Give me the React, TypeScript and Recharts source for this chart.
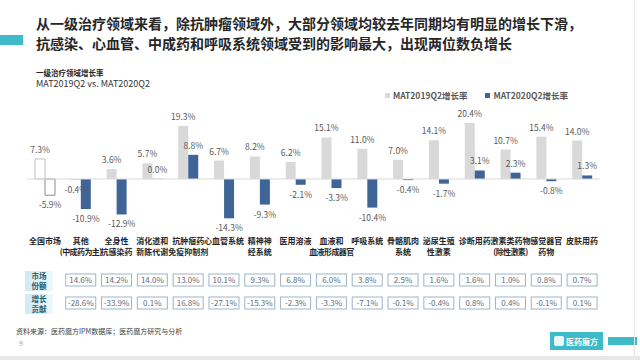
import { BarChart, Bar, XAxis, YAxis, Cell, LabelList, ReferenceLine } from "recharts";

// 一级治疗领域（含全国市场）
const categories = [
  "全国市场",
  "其他\n(中成药为主)",
  "全身性\n抗感染药",
  "消化道和\n新陈代谢",
  "抗肿瘤药\n免疫抑制剂",
  "心血管系统",
  "精神神\n经系统",
  "医用溶液",
  "血液和\n血液形成器官",
  "呼吸系统",
  "骨骼肌肉\n系统",
  "泌尿生殖\n性激素",
  "诊断用药",
  "激素类药物\n(除性激素)",
  "感觉器官\n药物",
  "皮肤用药",
];

const growth2019 = [7.3, -0.4, 3.6, 5.7, 19.3, 6.7, 8.2, 6.2, 15.1, 11.0, 7.0, 14.1, 20.4, 10.7, 15.4, 14.0];
const growth2020 = [-5.9, -10.9, -12.9, 0.0, 8.8, -14.3, -9.3, -2.1, -3.3, -10.4, -0.4, -1.7, 3.1, 2.3, -0.8, 1.3];

// 表格：市场份额 / 增长贡献（全国市场无）
const marketShare = [null, 14.6, 14.2, 14.0, 13.0, 10.1, 9.3, 6.8, 6.0, 3.8, 2.5, 1.6, 1.6, 1.0, 0.8, 0.7];
const contribution = [null, -28.6, -33.9, 0.1, 16.8, -27.1, -15.3, -2.3, -3.3, -7.1, -0.1, -0.4, 0.8, 0.4, -0.1, 0.1];

const seriesNames = ["MAT2019Q2增长率", "MAT2020Q2增长率"];

const COLOR_2019 = "#d9d9d9";
const COLOR_2020 = "#3f6596";
const TEAL = "#3fbac8";
const FONT = '"Noto Sans CJK SC", "Noto Sans", sans-serif';

const chartData = categories.map((name, i) => ({
  name,
  y2019: growth2019[i],
  y2020: growth2020[i],
}));

// label outside the end of the bar, below for negative values
const BarLabel = (props: any) => {
  const { x, y, width, height, value } = props;
  if (value === undefined || value === null) return null;
  const top = Math.min(y, y + height);
  const bottom = Math.max(y, y + height);
  const ty = value >= 0 ? top - 6 : bottom + 13;
  return (
    <text x={x + width / 2} y={ty} textAnchor="middle" fontSize={8.5} fill="#595959" fontFamily={FONT}>
      {Number(value).toFixed(1)}%
    </text>
  );
};

const fmt = (v: number) => `${v.toFixed(1)}%`;

// category name plus the two table cells under it
const CategoryTick = (props: any) => {
  const { x, y, payload } = props;
  const i = categories.indexOf(payload.value);
  const lines = String(payload.value).split("\n");
  const share = marketShare[i];
  const contrib = contribution[i];
  const boxW = 30;
  const boxH = 12;
  return (
    <g fontFamily={FONT}>
      {lines.map((line, k) => (
        <text
          key={k}
          x={x}
          y={y + 21 + k * 11}
          textAnchor="middle"
          fontSize={8}
          letterSpacing={line.length >= 6 ? -0.6 : 0}
          fontWeight="bold"
          fill="#262626"
        >
          {line}
        </text>
      ))}
      {share !== null && share !== undefined && (
        <g>
          <rect x={x - boxW / 2} y={y + 51} width={boxW} height={boxH} fill="#fff" stroke="#9fb3c6" strokeWidth={1} />
          <text x={x} y={y + 60} textAnchor="middle" fontSize={8} fill="#5b6e80">
            {fmt(share)}
          </text>
        </g>
      )}
      {contrib !== null && contrib !== undefined && (
        <g>
          <rect x={x - boxW / 2} y={y + 74} width={boxW} height={boxH} fill="#fff" stroke="#9fb3c6" strokeWidth={1} />
          <text x={x} y={y + 83} textAnchor="middle" fontSize={8} fill="#5b6e80">
            {fmt(contrib)}
          </text>
        </g>
      )}
    </g>
  );
};

const RowLabel = ({ top, lines }: { top: number; lines: string[] }) => (
  <div
    style={{
      position: "absolute",
      left: 25,
      top,
      width: 28,
      height: 20,
      background: "linear-gradient(to right, #cfeaf1, #eef8fa)",
      color: "#1d5d78",
      fontSize: 7.5,
      fontWeight: "bold",
      lineHeight: "10px",
      textAlign: "center",
    }}
  >
    {lines.map((l) => (
      <div key={l}>{l}</div>
    ))}
  </div>
);

export default function App() {
  return (
    <div
      style={{
        position: "absolute",
        left: 0,
        top: 0,
        width: 640,
        height: 360,
        background: "#fff",
        fontFamily: FONT,
        overflow: "hidden",
      }}
    >
      {/* title */}
      <div
        style={{
          position: "absolute",
          left: 36,
          top: 13,
          fontSize: 14,
          fontWeight: "bold",
          color: "#262626",
          lineHeight: "20px",
          whiteSpace: "nowrap",
        }}
      >
        <div>从一级治疗领域来看，除抗肿瘤领域外，大部分领域均较去年同期均有明显的增长下滑，</div>
        <div>抗感染、心血管、中成药和呼吸系统领域受到的影响最大，出现两位数负增长</div>
      </div>
      <div style={{ position: "absolute", left: 0, top: 35, width: 23, height: 10, background: TEAL }} />

      {/* subtitle */}
      <div style={{ position: "absolute", left: 36, top: 67, fontSize: 7.5, fontWeight: "bold", color: "#262626" }}>
        一级治疗领域增长率
      </div>
      <div style={{ position: "absolute", left: 36, top: 77, fontSize: 9, color: "#333" }}>
        MAT2019Q2 vs. MAT2020Q2
      </div>

      {/* legend */}
      <div
        style={{
          position: "absolute",
          left: 385,
          top: 89,
          display: "flex",
          gap: 18,
          fontSize: 8.5,
          fontWeight: "bold",
          color: "#595959",
        }}
      >
        {seriesNames.map((n, k) => (
          <div key={n} style={{ display: "flex", alignItems: "center", gap: 3 }}>
            <span style={{ width: 5, height: 5, background: k === 0 ? COLOR_2019 : COLOR_2020, display: "inline-block" }} />
            {n}
          </div>
        ))}
      </div>

      <div style={{ position: "absolute", left: 0, top: 0 }}>
        <BarChart
          width={640}
          height={360}
          data={chartData}
          margin={{ top: 113, right: 40, bottom: 37, left: 27 }}
          barGap={0}
        >
          <XAxis
            dataKey="name"
            axisLine={false}
            tickLine={false}
            tickSize={0}
            tickMargin={0}
            interval={0}
            height={100}
            tick={<CategoryTick />}
          />
          <YAxis hide domain={[-16, 24]} />
          <ReferenceLine y={0} stroke="#d9d9d9" strokeWidth={1} />
          <Bar dataKey="y2019" name={seriesNames[0]} fill={COLOR_2019} barSize={10} isAnimationActive={false}>
            {chartData.map((d, i) => (
              <Cell
                key={d.name}
                fill={i === 0 ? "#fff" : COLOR_2019}
                stroke={i === 0 ? "#bfbfbf" : "none"}
              />
            ))}
            <LabelList dataKey="y2019" content={<BarLabel />} />
          </Bar>
          <Bar
            dataKey="y2020"
            name={seriesNames[1]}
            fill={COLOR_2020}
            barSize={10}
            minPointSize={0.2}
            isAnimationActive={false}
          >
            {chartData.map((d, i) => (
              <Cell
                key={d.name}
                fill={i === 0 ? "#fff" : COLOR_2020}
                stroke={i === 0 ? "#8c8c8c" : "none"}
              />
            ))}
            <LabelList dataKey="y2020" content={<BarLabel />} />
          </Bar>
        </BarChart>
      </div>

      <RowLabel top={271} lines={["市场", "份额"]} />
      <RowLabel top={294} lines={["增长", "贡献"]} />

      {/* footer */}
      <div style={{ position: "absolute", left: 16, top: 326, fontSize: 7, color: "#404040" }}>
        资料来源：医药魔方IPM数据库；医药魔方研究与分析
      </div>
      <div style={{ position: "absolute", left: 19, top: 338, fontSize: 7, color: "#a6a6a6" }}>9</div>
      <div
        style={{
          position: "absolute",
          left: 550,
          top: 332,
          width: 53,
          height: 18,
          background: TEAL,
          color: "#fff",
          fontSize: 8,
          fontWeight: "bold",
          display: "flex",
          alignItems: "center",
          justifyContent: "space-between",
          padding: "0 5px 0 4px",
          boxSizing: "border-box",
        }}
      >
        <span style={{ width: 10, height: 10, background: "#e9f7f9", borderRadius: 2, display: "inline-block" }} />
        医药魔方
      </div>
      <div style={{ position: "absolute", left: 608, top: 337, width: 29, height: 8, background: TEAL }} />
      <div style={{ position: "absolute", left: 634, top: 0, width: 1, height: 357, background: "#e6e6e6" }} />
      <div style={{ position: "absolute", left: 0, top: 356, width: 640, height: 4, background: "#e8e8e8" }} />
    </div>
  );
}
